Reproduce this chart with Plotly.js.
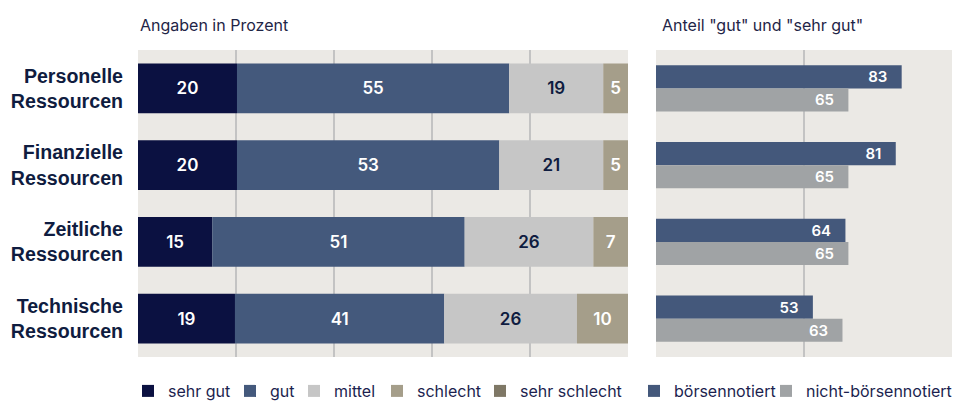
<!DOCTYPE html>
<html>
<head>
<meta charset="utf-8">
<script src="https://cdn.plot.ly/plotly-3.0.1.min.js"></script>
<style>html,body{margin:0;padding:0;background:#fff;}#chart{width:954px;height:403px;}</style>
</head>
<body>
<div id="chart"></div>
<script>
// ---- data ----
const categories = ['Personelle<br>Ressourcen', 'Finanzielle<br>Ressourcen', 'Zeitliche<br>Ressourcen', 'Technische<br>Ressourcen'];
const sehrGut = [20, 20, 15, 19];
const gut = [55, 53, 51, 41];
const mittel = [19, 21, 26, 26];
const schlecht = [5, 5, 7, 10];
const sehrSchlecht = [0, 0, 0, 0];
const boersennotiert = [83, 81, 64, 53];
const nichtBoersennotiert = [65, 65, 65, 63];
const leftTitle = 'Angaben in Prozent';
const rightTitle = 'Anteil "gut" und "sehr gut"';

// ---- layout constants ----
const W = 954, ml = 138, mr = 2, mt = 50, mb = 46;
const pw = W - ml - mr, ph = 403 - mt - mb;
const px2x = p => (p - ml) / pw;
const legendY = -(391 - (403 - mb)) / ph;

// ---- styles ----
const navy = '#0f1c40';
const leftSeries = [
  {name: 'sehr gut', vals: sehrGut, color: '#0b1141', text: '#ffffff', lx: 128},
  {name: 'gut', vals: gut, color: '#44597c', text: '#ffffff', lx: 230},
  {name: 'mittel', vals: mittel, color: '#c6c6c6', text: '#0f1c40', lx: 294},
  {name: 'schlecht', vals: schlecht, color: '#a59e8a', text: '#ffffff', lx: 377},
  {name: 'sehr schlecht', vals: sehrSchlecht, color: '#7f7866', text: '#ffffff', lx: 480}
];
const rightSeries = [
  {name: 'börsennotiert', vals: boersennotiert, color: '#44587b', offset: -0.3, lx: 634},
  {name: 'nicht-börsennotiert', vals: nichtBoersennotiert, color: '#a0a3a5', offset: 0, lx: 766}
];

const legendFont = {family: 'Inter, Roboto, sans-serif', size: 16, color: '#1c1f4f'};
const layout = {
  width: 954, height: 403,
  margin: {l: ml, r: mr, t: mt, b: mb, autoexpand: false},
  paper_bgcolor: '#ffffff', plot_bgcolor: '#ebe9e5',
  barmode: 'overlay', showlegend: true,
  xaxis: {domain: [0, px2x(628)], range: [0, 100], dtick: 20, showticklabels: false, showgrid: true,
          gridcolor: '#c3c3c3', gridwidth: 1.5, zeroline: false},
  yaxis: {autorange: 'reversed', type: 'category', showgrid: false, zeroline: false,
          ticklabelstandoff: 14,
          tickfont: {family: '"Liberation Sans", Arial, sans-serif', size: 19.6, weight: 'bold', color: navy}},
  xaxis2: {domain: [px2x(656), 1], range: [0, 100], dtick: 50, showticklabels: false, showgrid: true,
           gridcolor: '#c3c3c3', gridwidth: 1.5, zeroline: false, anchor: 'y2'},
  yaxis2: {autorange: 'reversed', type: 'category', showgrid: false, zeroline: false, showticklabels: false, anchor: 'x2'},
  annotations: [
    {text: leftTitle, xref: 'paper', yref: 'paper', x: px2x(138), y: (357 - 25) / ph, xanchor: 'left', yanchor: 'middle',
     showarrow: false, font: {family: 'Inter, sans-serif', size: 16, color: '#1f2547'}},
    {text: rightTitle, xref: 'paper', yref: 'paper', x: px2x(660), y: (357 - 25) / ph, xanchor: 'left', yanchor: 'middle',
     showarrow: false, font: {family: 'Inter, sans-serif', size: 16, color: '#1f2547'}}
  ]
};

const traces = [];
let legendIdx = 0;
function nextLegend(lx) {
  legendIdx += 1;
  const key = legendIdx === 1 ? 'legend' : 'legend' + legendIdx;
  layout[key] = {orientation: 'h', x: px2x(lx), xanchor: 'left', y: legendY, yanchor: 'middle',
                 font: legendFont, bgcolor: 'rgba(0,0,0,0)', borderwidth: 0};
  return key;
}

const totals = categories.map((c, i) => leftSeries.reduce((s, ser) => s + ser.vals[i], 0));
const running = categories.map(() => 0);
leftSeries.forEach(ser => {
  const share = ser.vals.map((v, i) => v / totals[i] * 100);
  const base = running.slice();
  share.forEach((v, i) => running[i] += v);
  traces.push({
    type: 'bar', orientation: 'h', name: ser.name,
    y: categories, x: share, base: base,
    width: 0.65,
    marker: {color: ser.color, line: {width: 0}},
    text: ser.vals.map(v => v > 0 ? String(v) : ''),
    textposition: 'inside', insidetextanchor: 'middle', constraintext: 'none', textangle: 0,
    textfont: {family: 'Inter, Roboto, sans-serif', size: 17, weight: 600, color: ser.text},
    xaxis: 'x', yaxis: 'y', legend: nextLegend(ser.lx), hoverinfo: 'skip'
  });
});
rightSeries.forEach(ser => {
  traces.push({
    type: 'bar', orientation: 'h', name: ser.name,
    y: categories, x: ser.vals,
    width: 0.3, offset: ser.offset,
    marker: {color: ser.color, line: {width: 0}},
    text: ser.vals.map(v => v + '\u00a0\u00a0\u00a0'),
    textposition: 'inside', insidetextanchor: 'end', constraintext: 'none', textangle: 0,
    textfont: {family: 'Inter, Roboto, sans-serif', size: 15, weight: 600, color: '#ffffff'},
    xaxis: 'x2', yaxis: 'y2', legend: nextLegend(ser.lx), hoverinfo: 'skip'
  });
});

Plotly.newPlot('chart', traces, layout, {displayModeBar: false, staticPlot: true});
</script>
</body>
</html>
